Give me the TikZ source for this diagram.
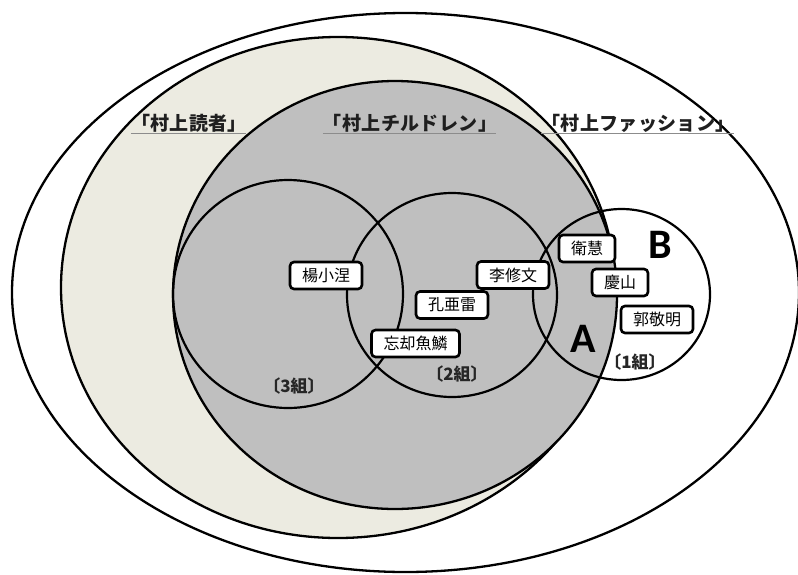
\documentclass[tikz,border=0pt]{standalone}
\usepackage{fontspec}
\newfontfamily\jp{Noto Sans CJK JP}
\newfontfamily\jpls[LetterSpace=2]{Noto Sans CJK JP}
\newfontfamily\carlito{Carlito}
\definecolor{beigefill}{RGB}{236,235,225}
\definecolor{grayfill}{RGB}{191,191,191}
\begin{document}
\begin{tikzpicture}[x=1pt,y=-1pt,
  ring/.style={line width=2.3pt},
  grpring/.style={line width=2.2pt},
  namebox/.style={draw, line width=2.6pt, rounded corners=4pt, fill=white,
    font=\jp\fontsize{16}{16}\selectfont, minimum height=27pt,
    inner xsep=12pt, inner ysep=0pt},
  setlabel/.style={font=\jpls\bfseries\fontsize{19}{19}\selectfont, text=black!88,
    inner sep=0pt, anchor=base},
  ul/.style={draw=black!45, line width=1.5pt},
  grplabel/.style={font=\jp\bfseries\fontsize{17}{17}\selectfont, text=black!85},
  letter/.style={font=\carlito\bfseries\fontsize{42}{42}\selectfont, anchor=base, inner sep=0pt}]
\useasboundingbox (0,0) rectangle (798,574);
\fill[white] (0,0) rectangle (798,574);

% outer ellipse (村上ファッション)
\draw[ring] (405.5,292.5) ellipse [x radius=393.5pt, y radius=279.5pt];
% beige ellipse (村上読者)
\draw[ring, fill=beigefill] (338,287.5) ellipse [x radius=277pt, y radius=250.5pt];
% gray ellipse (村上チルドレン)
\draw[ring, fill=grayfill] (395,295) ellipse [x radius=222pt, y radius=214pt];

% group circles
\draw[grpring] (288,294) ellipse [x radius=115pt, y radius=114pt];
\draw[grpring] (452,295) ellipse [x radius=105pt, y radius=102pt];
\draw[grpring] (621.5,294.5) ellipse [x radius=88.5pt, y radius=85.5pt];

% set labels
\node[setlabel] (lReaders) at (189,130) {「村上読者」};
\node[setlabel] (lChildren) at (410,130) {「村上チルドレン」};
\node[setlabel] (lFashion) at (638,130) {「村上ファッション」};
\foreach \n in {lReaders,lChildren,lFashion}
  \draw[ul] ([yshift=-3.5pt]\n.base west) -- ([yshift=-3.5pt,xshift=-1pt]\n.base east);

% group labels
\node[grplabel] (g3) at (294,386) {〔3組〕};
\node[grplabel] (g2) at (457,374) {〔2組〕};
\node[grplabel] (g1) at (635,362) {〔1組〕};

% A / B
\node[letter] (A) at (583,352) {A};
\node[letter] (B) at (660,258) {B};

% name boxes
\node[namebox] (yang) at (326,275.5) {楊小涅};
\node[namebox] (li) at (513,275) {李修文};
\node[namebox] (kong) at (452,305) {孔亜雷};
\node[namebox] (wang) at (415.5,343.5) {忘却魚鱗};
\node[namebox] (wei) at (587,248.5) {衛慧};
\node[namebox] (qing) at (620,282.5) {慶山};
\node[namebox] (guo) at (657,319.5) {郭敬明};
\end{tikzpicture}
\end{document}
